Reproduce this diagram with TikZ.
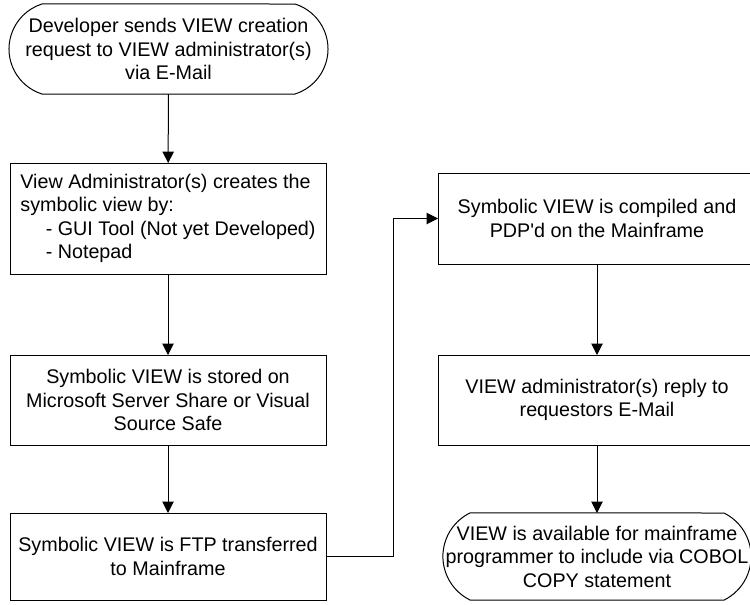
\documentclass[tikz,border=0pt]{standalone}
\usepackage{fontspec}
\setmainfont{Liberation Sans}
\usetikzlibrary{arrows.meta}
\begin{document}
\begin{tikzpicture}[x=0.75pt,y=-0.75pt,
  every node/.style={font=\fontsize{14.8}{17.6}\selectfont, inner sep=0pt, outer sep=0pt},
  boxstep/.style={draw, line width=0.75pt, rectangle, align=center},
  termstep/.style={rectangle, align=center},
  outline/.style={line width=0.75pt},
  flow/.style={line width=0.75pt, -{Triangle[length=8.5pt,width=8.5pt]}}]
\useasboundingbox (0,0) rectangle (750,604);
% terminator 1
\node[termstep, minimum width=239.25pt, minimum height=67.5pt] (t1) at (168.5,49)
  {Developer sends VIEW creation\\request to VIEW administrator(s)\\via E-Mail};
\draw[outline] ([xshift=-24.75pt]t1.north east) arc[start angle=72.5, end angle=-72.5, radius=35.4pt]
  -- ([xshift=24.75pt]t1.south west) arc[start angle=252.5, end angle=107.5, radius=35.4pt] -- cycle;
\node[boxstep, minimum width=237pt, minimum height=83.25pt, align=left] (b2) at (168,218.5)
  {View Administrator(s) creates the\\symbolic view by:\\\hspace*{19pt}- GUI Tool (Not yet Developed)\\\hspace*{19pt}- Notepad};
\node[boxstep, minimum width=237pt, minimum height=67.5pt] (b3) at (168,400)
  {Symbolic VIEW is stored on\\Microsoft Server Share or Visual\\Source Safe};
\node[boxstep, minimum width=237pt, minimum height=65.25pt] (b4) at (168,556.5)
  {Symbolic VIEW is FTP transferred\\to Mainframe};
\node[boxstep, minimum width=238.5pt, minimum height=68.25pt] (b5) at (597,218.5)
  {Symbolic VIEW is compiled and\\PDP\textquotesingle d on the Mainframe};
\node[boxstep, minimum width=238.5pt, minimum height=67.5pt] (b6) at (597,400)
  {VIEW administrator(s) reply to\\requestors E-Mail};
% terminator 7
\node[termstep, minimum width=231pt, minimum height=65.25pt] (t7) at (597,556.5)
  {VIEW is available for mainframe\\programmer to include via COBOL\\COPY statement};
\draw[outline] ([xshift=-20.25pt]t7.north east) arc[start angle=63.8, end angle=-63.8, radius=36.4pt]
  -- ([xshift=20.25pt]t7.south west) arc[start angle=243.8, end angle=116.2, radius=36.4pt] -- cycle;
\coordinate (mid) at (393,0);
\draw[flow] (t1) -- (b2);
\draw[flow] (b2) -- (b3);
\draw[flow] (b3) -- (b4);
\draw[flow] (b4.east) -- (b4.east -| mid) -- (mid |- b5.west) -- (b5.west);
\draw[flow] (b5) -- (b6);
\draw[flow] (b6) -- (t7);
\end{tikzpicture}
\end{document}
